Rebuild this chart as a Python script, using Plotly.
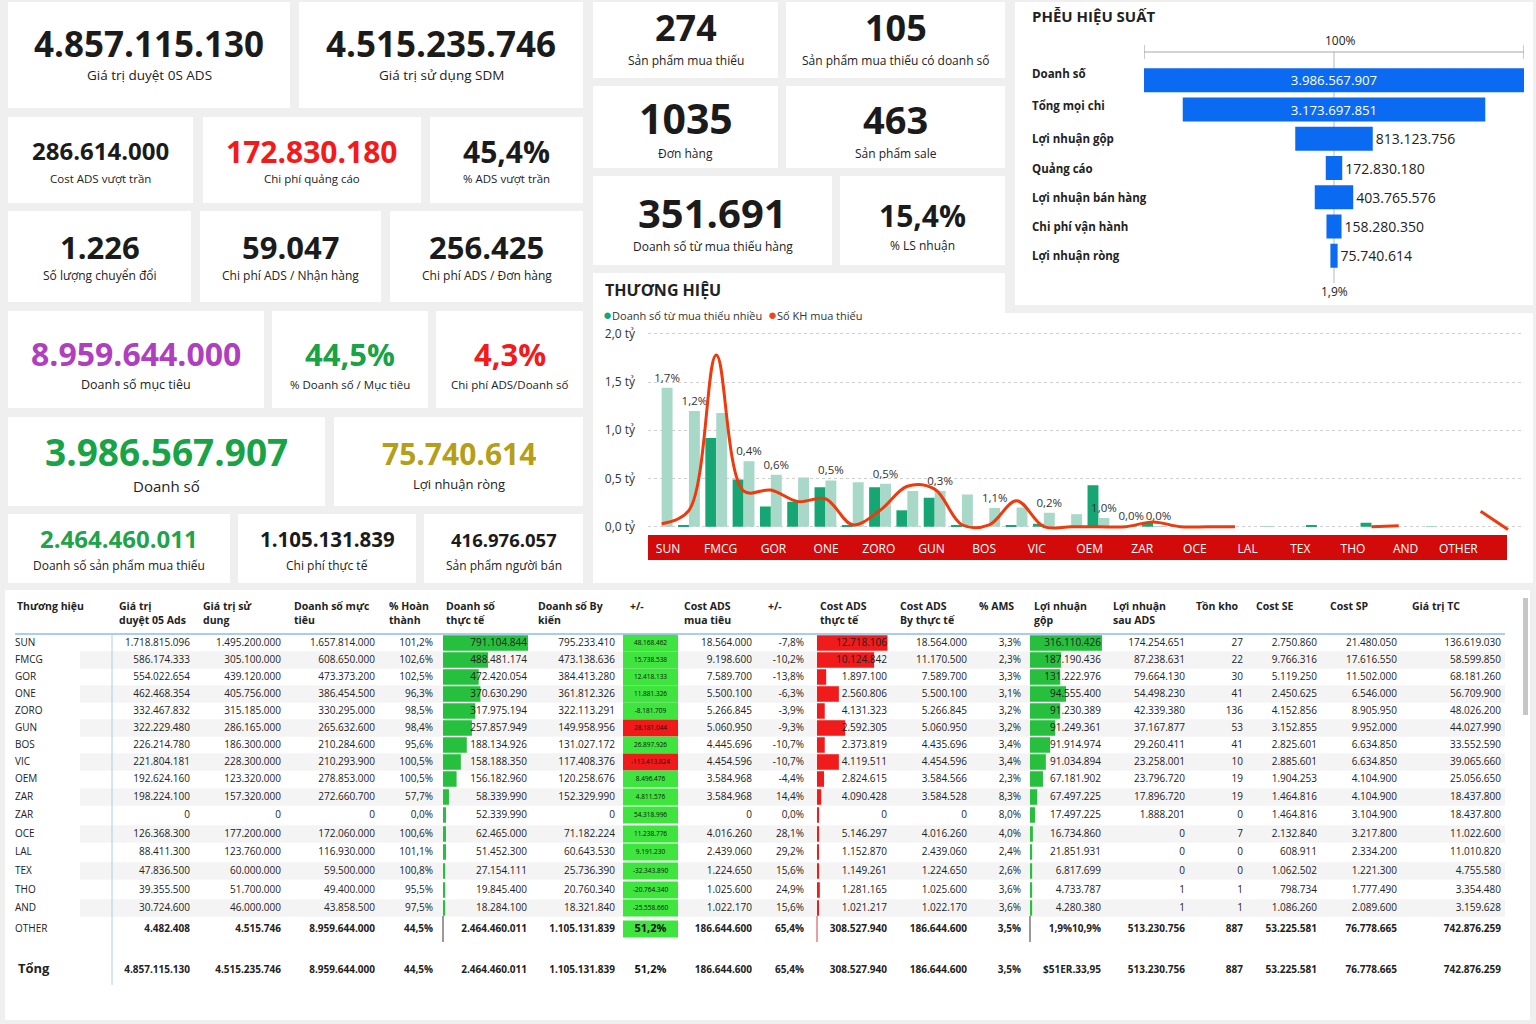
import plotly.graph_objects as go

W, H = 1536, 1024
FONT = "Open Sans"
INK = "#1b1b1b"


def fx(x):
    return x / W


def fy(y):
    return 1 - y / H


# ------------------------------------------------------------------ KPI data
kpi_values = ["4.857.115.130", "4.515.235.746", "286.614.000", "172.830.180", "45,4%",
              "1.226", "59.047", "256.425", "8.959.644.000", "44,5%", "4,3%",
              "3.986.567.907", "75.740.614", "2.464.460.011", "1.105.131.839", "416.976.057",
              "274", "105", "1035", "463", "351.691", "15,4%"]
kpi_labels = ["Giá trị duyệt 0S ADS", "Giá trị sử dụng SDM", "Cost ADS vượt trần", "Chi phí quảng cáo",
              "% ADS vượt trần", "Số lượng chuyển đổi", "Chi phí ADS / Nhận hàng", "Chi phí ADS / Đơn hàng",
              "Doanh số mục tiêu", "% Doanh số / Mục tiêu", "Chi phí ADS/Doanh số", "Doanh số",
              "Lợi nhuận ròng", "Doanh số sản phẩm mua thiếu", "Chi phí thực tế", "Sản phẩm người bán",
              "Sản phẩm mua thiếu", "Sản phẩm mua thiếu có doanh số", "Đơn hàng", "Sản phẩm sale",
              "Doanh số từ mua thiếu hàng", "% LS nhuận"]

# ------------------------------------------------------------------ brand chart data (32 slots)
brand_labels = ["SUN", "FMCG", "GOR", "ONE", "ZORO", "GUN", "BOS", "VIC", "OEM", "ZAR",
                "OCE", "LAL", "TEX", "THO", "AND", "OTHER"]
ds_mua_thieu_nhieu = [0.0, 0.01, 0.92, 0.49, 0.21, 0.26, 0.41, 0.01, 0.41, 0.17, 0.30, 0.01, 0.0, 0.01,
                      0.03, 0.0, 0.43, 0.0, 0.04, 0.0, 0.0, 0.0, 0.0, 0.0, 0.015, 0.0, 0.04, 0.0,
                      0.0, 0.0, 0.0, 0.0]
ds_tong = [1.44, 1.20, 1.18, 0.68, 0.54, 0.51, 0.48, 0.46, 0.445, 0.37, 0.37, 0.335, 0.195, 0.20,
           0.145, 0.13, 0.09, 0.005, 0.003, 0.0, 0.0, 0.0, 0.006, 0.0, 0.0, 0.0, 0.0, 0.0,
           0.004, 0.0, 0.0, 0.0]
ty_le_nhan = ["1,7%", "1,2%", "", "0,4%", "0,6%", "", "0,5%", "", "0,5%", "", "0,3%", "", "1,1%", "",
              "0,2%", "", "1,0%", "0,0%", "0,0%", "", "", "", "", "", "", "", "", "", "", "", "", ""]
so_kh_mua_thieu = [0.03, 0.17, 1.78, 0.37, 0.38, 0.26, 0.29, 0.02, 0.17, 0.42, 0.39, 0.02, 0.02, 0.27,
                   0.0, 0.0, 0.0, 0.0, 0.05, 0.0, 0.0, 0.0, None, None, None, None, 0.0, 0.01,
                   None, None, 0.16, -0.03]
y_ticks = [0, 0.5, 1.0, 1.5, 2.0]
y_tick_text = ["0,0 tỷ", "0,5 tỷ", "1,0 tỷ", "1,5 tỷ", "2,0 tỷ"]

# ------------------------------------------------------------------ funnel data
funnel_stages = ["Doanh số", "Tổng mọi chi", "Lợi nhuận gộp", "Quảng cáo", "Lợi nhuận bán hàng",
                 "Chi phí vận hành", "Lợi nhuận ròng"]
funnel_values = [3986567907, 3173697851, 813123756, 172830180, 403765576, 158280350, 75740614]

# ------------------------------------------------------------------ table data
thuong_hieu = ["SUN", "FMCG", "GOR", "ONE", "ZORO", "GUN", "BOS", "VIC", "OEM", "ZAR", "ZAR", "OCE",
               "LAL", "TEX", "THO", "AND", "OTHER"]
gia_tri_duyet = ["1.718.815.096", "586.174.333", "554.022.654", "462.468.354", "332.467.832", "322.229.480",
                 "226.214.780", "221.804.181", "192.624.160", "198.224.100", "0", "126.368.300", "88.411.300",
                 "47.836.500", "39.355.500", "30.724.600", "4.482.408", "4.857.115.130"]
gia_tri_su_dung = ["1.495.200.000", "305.100.000", "439.120.000", "405.756.000", "315.185.000", "286.165.000",
                   "186.300.000", "228.300.000", "123.320.000", "157.320.000", "0", "177.200.000", "123.760.000",
                   "60.000.000", "51.700.000", "46.000.000", "4.515.746", "4.515.235.746"]
ds_muc_tieu = ["1.657.814.000", "608.650.000", "473.373.200", "386.454.500", "330.295.000", "265.632.600",
               "210.284.600", "210.293.900", "278.853.000", "272.660.700", "0", "172.060.000", "116.930.000",
               "59.500.000", "49.400.000", "43.858.500", "8.959.644.000", "8.959.644.000"]
pct_hoan_thanh = ["101,2%", "102,6%", "102,5%", "96,3%", "98,5%", "98,4%", "95,6%", "100,5%", "100,5%",
                  "57,7%", "0,0%", "100,6%", "101,1%", "100,8%", "95,5%", "97,5%", "44,5%", "44,5%"]
ds_thuc_te = ["791.104.844", "488.481.174", "472.420.054", "370.630.290", "317.975.194", "257.857.949",
              "188.134.926", "158.188.350", "156.182.960", "58.339.990", "52.339.990", "62.465.000",
              "51.452.300", "27.154.111", "19.845.400", "18.284.100", "2.464.460.011", "2.464.460.011"]
ds_thuc_te_bar = [1.0, 0.53, 0.42, 0.44, 0.38, 0.34, 0.28, 0.21, 0.16, 0.07, 0.035, 0.035, 0.035,
                  0.025, 0.025, 0.025]
ds_du_kien = ["795.233.410", "473.138.636", "384.413.280", "361.812.326", "322.113.291", "149.958.956",
              "131.027.172", "117.408.376", "120.258.676", "152.329.990", "0", "71.182.224", "60.643.530",
              "25.736.390", "20.760.340", "18.321.840", "1.105.131.839", "1.105.131.839"]
chenh_lech_ds = ["48.168.462", "15.738.538", "12.418.133", "11.881.326", "-8.181.709", "28.181.044",
                 "26.897.926", "-113.413.824", "8.496.476", "4.811.576", "54.318.996", "11.238.776",
                 "9.191.230", "-32.343.890", "-20.764.340", "-25.558.660", "51,2%", "51,2%"]
chenh_lech_dat = [True, True, True, True, True, False, True, False, True, True, True, True, True, True,
                  True, True, True]
cost_ads_muc_tieu = ["18.564.000", "9.198.600", "7.589.700", "5.500.100", "5.266.845", "5.060.950",
                     "4.445.696", "4.454.596", "3.584.968", "3.584.968", "0", "4.016.260", "2.439.060",
                     "1.224.650", "1.025.600", "1.022.170", "186.644.600", "186.644.600"]
chenh_lech_cost = ["-7,8%", "-10,2%", "-13,8%", "-6,3%", "-3,9%", "-9,3%", "-10,7%", "-10,7%", "-4,4%",
                   "14,4%", "0,0%", "28,1%", "29,2%", "15,6%", "24,9%", "15,6%", "65,4%", "65,4%"]
cost_ads_thuc_te = ["12.718.106", "10.124.842", "1.897.100", "2.560.806", "4.131.323", "2.592.305",
                    "2.373.819", "4.119.511", "2.824.615", "4.090.428", "0", "5.146.297", "1.152.870",
                    "1.149.261", "1.281.165", "1.021.217", "308.527.940", "308.527.940"]
cost_ads_thuc_te_bar = [1.0, 0.81, 0.13, 0.31, 0.11, 0.40, 0.11, 0.31, 0.10, 0.06, 0.03, 0.03, 0.02,
                        0.03, 0.04, 0.015]
cost_ads_by = ["18.564.000", "11.170.500", "7.589.700", "5.500.100", "5.266.845", "5.060.950", "4.435.696",
               "4.454.596", "3.584.566", "3.584.528", "0", "4.016.260", "2.439.060", "1.224.650",
               "1.025.600", "1.022.170", "186.644.600", "186.644.600"]
pct_ams = ["3,3%", "2,3%", "3,3%", "3,1%", "3,2%", "3,2%", "3,4%", "3,4%", "2,3%", "8,3%", "8,0%", "4,0%",
           "2,4%", "2,6%", "3,6%", "3,6%", "3,5%", "3,5%"]
loi_nhuan_gop = ["316.110.426", "187.190.436", "131.222.976", "94.555.400", "91.230.389", "91.249.361",
                 "91.914.974", "91.034.894", "67.181.902", "67.497.225", "17.497.225", "16.734.860",
                 "21.851.931", "6.817.699", "4.733.787", "4.280.380", "1,9%10,9%", "$51ER.33,95"]
loi_nhuan_gop_bar = [1.0, 0.43, 0.42, 0.50, 0.42, 0.35, 0.28, 0.22, 0.18, 0.10, 0.07, 0.04, 0.03,
                     0.03, 0.03, 0.03]
ln_sau_ads = ["174.254.651", "87.238.631", "79.664.130", "54.498.230", "42.339.380", "37.167.877",
              "29.260.411", "23.258.001", "23.796.720", "17.896.720", "1.888.201", "0", "0", "0", "1", "1",
              "513.230.756", "513.230.756"]
ton_kho = ["27", "22", "30", "41", "136", "53", "41", "10", "19", "19", "0", "7", "0", "0", "1", "1",
           "887", "887"]
cost_se = ["2.750.860", "9.766.316", "5.119.250", "2.450.625", "4.152.856", "3.152.855", "2.825.601",
           "2.885.601", "1.904.253", "1.464.816", "1.464.816", "2.132.840", "608.911", "1.062.502",
           "798.734", "1.086.260", "53.225.581", "53.225.581"]
cost_sp = ["21.480.050", "17.616.550", "11.502.000", "6.546.000", "8.905.950", "9.952.000", "6.634.850",
           "6.634.850", "4.104.900", "4.104.900", "3.104.900", "3.217.800", "2.334.200", "1.221.300",
           "1.777.490", "2.089.600", "76.778.665", "76.778.665"]
gia_tri_tc = ["136.619.030", "58.599.850", "68.181.260", "56.709.900", "48.026.200", "44.027.990",
              "33.552.590", "39.065.660", "25.056.650", "18.437.800", "18.437.800", "11.022.600",
              "11.010.820", "4.755.580", "3.354.480", "3.159.628", "742.876.259", "742.876.259"]
table_headers = ["Thương hiệu", "Giá trị<br>duyệt 05 Ads", "Giá trị sử<br>dung", "Doanh số mực<br>tiêu",
                 "% Hoàn<br>thành", "Doanh số<br>thực tế", "Doanh số By<br>kiến", "+/-", "Cost ADS<br>mua tiêu",
                 "+/-", "Cost ADS<br>thực tế", "Cost ADS<br>By thực tế", "% AMS", "Lợi nhuận<br>gộp",
                 "Lợi nhuận<br>sau ADS", "Tồn kho", "Cost SE", "Cost SP", "Giá trị TC"]
total_label = "Tổng"

# ================================================================== figure
fig = go.Figure()
shapes = []
annotations = []


def card(x0, y0, x1, y1):
    shapes.append(dict(type="rect", xref="paper", yref="paper", x0=fx(x0), x1=fx(x1), y0=fy(y1), y1=fy(y0),
                       fillcolor="white", line=dict(width=0), layer="below"))


# ---------------- KPI cards
kpi_layout = [  # x0, y0, x1, y1, value_y, value_size, label_y, label_size
    (8, 2, 290, 108, 44, 35, 75, 13.5), (299, 2, 583, 108, 44, 35, 75, 13.5),
    (8, 117, 193, 203, 151, 24, 178, 11.5), (203, 117, 421, 203, 151, 30, 178, 11.5),
    (430, 117, 583, 203, 151, 30, 178, 11.5),
    (8, 211, 191, 302, 246, 31, 275, 12), (200, 211, 381, 302, 246, 31, 275, 12),
    (390, 211, 583, 302, 246, 31, 275, 12),
    (8, 311, 264, 408, 353, 32, 384, 12.5), (272, 311, 428, 408, 353, 31, 384, 11.5),
    (436, 311, 583, 408, 353, 31, 384, 11.5),
    (8, 417, 325, 506, 452, 37, 486, 15), (334, 417, 583, 506, 453, 30, 484, 13),
    (8, 514, 230, 583, 539, 24, 565, 12), (238, 514, 416, 583, 539, 20.5, 565, 12),
    (424, 514, 583, 583, 539, 18.5, 565, 12),
    (593, 2, 778, 78, 27, 36, 60, 12), (786, 2, 1005, 78, 27, 36, 60, 12),
    (593, 86, 778, 168, 118, 41, 153, 12), (786, 86, 1005, 168, 118, 38, 153, 12),
    (593, 176, 832, 265, 212, 40, 246, 12), (840, 176, 1005, 265, 215, 30, 245, 12),
]
kpi_colors = [INK, INK, INK, "#f41a1a", INK, INK, INK, INK, "#b03fbf", "#18a347", "#f41a1a",
              "#18a347", "#b59f18", "#1fa34c", INK, INK, INK, INK, INK, INK, INK, INK]

for (x0, y0, x1, y1, vy, vs, ly, ls), val, lab, col in zip(kpi_layout, kpi_values, kpi_labels, kpi_colors):
    card(x0, y0, x1, y1)
    cx = (x0 + x1) / 2
    annotations.append(dict(x=fx(cx), y=fy(vy), xref="paper", yref="paper", text="<b>%s</b>" % val,
                            showarrow=False, xanchor="center", yanchor="middle", height=vs * 1.08,
                            font=dict(family=FONT, size=vs, color=col)))
    annotations.append(dict(x=fx(cx), y=fy(ly), xref="paper", yref="paper", text=lab, showarrow=False,
                            xanchor="center", yanchor="middle", font=dict(family=FONT, size=ls, color="#222")))

# ---------------- chart / table cards
card(593, 273, 1005, 583)
card(593, 313, 1533, 583)
card(1015, 2, 1533, 305)
card(5, 590, 1530, 1020)

# red category band
shapes.append(dict(type="rect", xref="paper", yref="paper", x0=fx(648), x1=fx(1507), y0=fy(560), y1=fy(535),
                   fillcolor="#d20a0a", line=dict(width=0), layer="below"))

slots = list(range(len(ds_tong)))
fig.add_trace(go.Bar(x=slots, y=ds_mua_thieu_nhieu, width=0.4, offset=-0.4,
                     marker=dict(color="#15a673", line=dict(width=0)),
                     name="Doanh số từ mua thiếu nhiều", showlegend=False, xaxis="x", yaxis="y"))
fig.add_trace(go.Bar(x=slots, y=ds_tong, width=0.4, offset=0.0, marker=dict(color="#a7d8c8", line=dict(width=0)),
                     text=ty_le_nhan, textposition="outside", constraintext="none",
                     textfont=dict(family=FONT, size=11.5, color="#333"),
                     cliponaxis=False, showlegend=False, xaxis="x", yaxis="y"))
fig.add_trace(go.Scatter(x=slots, y=so_kh_mua_thieu, mode="lines", connectgaps=False,
                         line=dict(color="#ee3a0c", width=3, shape="spline", smoothing=1.0),
                         name="Số KH mua thiếu", showlegend=False, xaxis="x", yaxis="y4", cliponaxis=False))

annotations.append(dict(x=fx(603), y=fy(290), xref="paper", yref="paper", text="<b>THƯƠNG HIỆU</b>",
                        showarrow=False, xanchor="left", yanchor="middle",
                        font=dict(family=FONT, size=16, color="#222")))
annotations.append(dict(x=fx(601), y=fy(314), xref="paper", yref="paper",
                        text="<span style='color:#13a877;font-size:15px'>●</span>Doanh số từ mua thiếu nhiều  "
                             "<span style='color:#f0461a;font-size:15px'>●</span>Số KH mua thiếu",
                        showarrow=False, xanchor="left", yanchor="middle",
                        font=dict(family=FONT, size=11, color="#333")))

tick_pos = [0.233 + 1.93 * i for i in range(len(brand_labels))]
y_range = [-0.086, 2.04]

# ---------------- funnel
fmt = lambda v: f"{v:,}".replace(",", ".")
M = funnel_values[0]
fig.add_trace(go.Funnel(y=funnel_stages, x=funnel_values, text=[fmt(v) for v in funnel_values],
                        textinfo="text", textposition=["inside", "inside"] + ["outside"] * 5,
                        insidetextfont=dict(family=FONT, size=14, color="white"),
                        outsidetextfont=dict(family=FONT, size=14, color="#222"),
                        marker=dict(color="#0b6af2", line=dict(width=0)),
                        connector=dict(visible=False), cliponaxis=False, xaxis="x2", yaxis="y2",
                        showlegend=False))
annotations.append(dict(x=fx(1030), y=fy(16), xref="paper", yref="paper", text="<b>PHỄU HIỆU SUẤT</b>",
                        showarrow=False, xanchor="left", yanchor="middle",
                        font=dict(family=FONT, size=15, color="#222")))
label_shift = [7, 4, 0, 0, 0, 0, 0]
for st, ys in zip(funnel_stages, label_shift):
    annotations.append(dict(x=fx(1030), y=st, xref="paper", yref="y2", text="<b>%s</b>" % st,
                            showarrow=False, xanchor="left", yanchor="middle", yshift=ys,
                            font=dict(family=FONT, size=11.5, color="#222")))
pct_first = "%d%%" % round(100 * funnel_values[0] / M)
pct_last = ("%.1f%%" % (100 * funnel_values[-1] / M)).replace(".", ",")
annotations.append(dict(x=0, y=fy(40), xref="x2", yref="paper", text=pct_first, showarrow=False,
                        xanchor="center", yanchor="middle", xshift=6,
                        font=dict(family=FONT, size=12, color="#222")))
annotations.append(dict(x=0, y=fy(291), xref="x2", yref="paper", text=pct_last, showarrow=False,
                        xanchor="center", yanchor="middle", font=dict(family=FONT, size=12, color="#222")))
axc = "#a8a8a8"
shapes += [
    dict(type="line", xref="x2", yref="paper", x0=-M / 2, x1=M / 2, y0=fy(52), y1=fy(52),
         line=dict(color=axc, width=1.2)),
    dict(type="line", xref="x2", yref="paper", x0=-M / 2, x1=-M / 2, y0=fy(45), y1=fy(59),
         line=dict(color=axc, width=1.2)),
    dict(type="line", xref="x2", yref="paper", x0=M / 2, x1=M / 2, y0=fy(45), y1=fy(59),
         line=dict(color=axc, width=1.2)),
    dict(type="line", xref="x2", yref="paper", x0=0, x1=0, y0=fy(52), y1=fy(283),
         line=dict(color="#c4c4c4", width=1.2), layer="below"),
]

# ---------------- table
n = 16
row_y = [643, 660, 677, 694, 711, 728, 745, 762, 779, 797, 815, 834, 852, 871, 890, 908, 929]
total_y = 970
ys_all = row_y + [total_y]
num_cols = [(gia_tri_duyet, 190), (gia_tri_su_dung, 281), (ds_muc_tieu, 375), (pct_hoan_thanh, 433),
            (ds_thuc_te, 527), (ds_du_kien, 615), (cost_ads_muc_tieu, 752), (chenh_lech_cost, 804),
            (cost_ads_thuc_te, 887), (cost_ads_by, 967), (pct_ams, 1021), (loi_nhuan_gop, 1101),
            (ln_sau_ads, 1185), (ton_kho, 1243), (cost_se, 1317), (cost_sp, 1397), (gia_tri_tc, 1501)]
header_x = [15, 117, 201, 292, 387, 444, 536, 628, 682, 766, 818, 898, 977, 1032, 1111, 1194, 1254, 1328, 1410]

for i in range(n):
    if i % 2 == 1:
        shapes.append(dict(type="rect", xref="x3", yref="y3", x0=80, x1=1505, y0=row_y[i] - 8.8,
                           y1=row_y[i] + 8.8, fillcolor="#f4f4f4", line=dict(width=0), layer="below"))
shapes.append(dict(type="line", xref="x3", yref="y3", x0=15, x1=1505, y0=634, y1=634,
                   line=dict(color="#8dbde6", width=1.5)))
shapes.append(dict(type="line", xref="x3", yref="y3", x0=112, x1=112, y0=634, y1=985,
                   line=dict(color="#a9cdee", width=1)))
shapes.append(dict(type="rect", xref="x3", yref="y3", x0=1523, x1=1528, y0=598, y1=715,
                   fillcolor="#c6c6c6", line=dict(width=0)))

fill_cols = ["#3fe43f" if ok else "#f01a1a" for ok in chenh_lech_dat]
fig.add_trace(go.Bar(y=row_y, x=[55] * (n + 1), base=[623] * (n + 1), orientation="h", width=17,
                     marker=dict(color=fill_cols, line=dict(width=0)), xaxis="x3", yaxis="y3",
                     showlegend=False))
for bars, x0, span, col in [(ds_thuc_te_bar, 443, 85, "#27bf3e"), (cost_ads_thuc_te_bar, 817, 70.5, "#f01b1b"),
                            (loi_nhuan_gop_bar, 1030, 72, "#27bf3e")]:
    fig.add_trace(go.Bar(y=row_y[:n], x=[b * span for b in bars], base=[x0] * n, orientation="h", width=15.5,
                         marker=dict(color=col, line=dict(width=0)), xaxis="x3", yaxis="y3",
                         showlegend=False))
# thin summary-row bar stubs (OTHER row)
fig.add_trace(go.Bar(y=[row_y[n]] * 3, x=[1.5, 1.5, 1.5], base=[442, 816, 1029], orientation="h", width=26,
                     marker=dict(color=["#9a9a9a", "#e8a0a0", "#9a9a9a"], line=dict(width=0)),
                     xaxis="x3", yaxis="y3", showlegend=False))

cell_font = dict(family=FONT, size=10, color="#222")


def bold(lst, idxs):
    return ["<b>%s</b>" % v if i in idxs else v for i, v in enumerate(lst)]


fig.add_trace(go.Scatter(x=[15] * (n + 1), y=row_y, mode="text", text=thuong_hieu, textposition="middle right",
                         textfont=cell_font, xaxis="x3", yaxis="y3", showlegend=False, cliponaxis=False))
fig.add_trace(go.Scatter(x=[18], y=[total_y], mode="text", text=["<b>%s</b>" % total_label],
                         textposition="middle right", textfont=dict(family=FONT, size=13, color="#222"),
                         xaxis="x3", yaxis="y3", showlegend=False, cliponaxis=False))
for vals, xr in num_cols:
    fig.add_trace(go.Scatter(x=[xr] * len(vals), y=ys_all, mode="text", text=bold(vals, {n, n + 1}),
                             textposition="middle left", textfont=cell_font, xaxis="x3", yaxis="y3",
                             showlegend=False, cliponaxis=False))
fig.add_trace(go.Scatter(x=[650.5] * n, y=row_y[:n], mode="text", text=chenh_lech_ds[:n],
                         textposition="middle center", textfont=dict(family=FONT, size=6.5, color="#111"),
                         xaxis="x3", yaxis="y3", showlegend=False, cliponaxis=False))
fig.add_trace(go.Scatter(x=[650.5, 650.5], y=[row_y[n], total_y], mode="text",
                         text=["<b>%s</b>" % v for v in chenh_lech_ds[n:]], textposition="middle center",
                         textfont=dict(family=FONT, size=11, color="#111"), xaxis="x3", yaxis="y3",
                         showlegend=False, cliponaxis=False))
for hx, ht in zip(header_x, table_headers):
    annotations.append(dict(x=hx, y=597, xref="x3", yref="y3", text="<b>%s</b>" % ht, showarrow=False,
                            xanchor="left", yanchor="top", align="left",
                            font=dict(family=FONT, size=10.5, color="#222")))

# ================================================================== layout
fig.update_layout(
    width=W, height=H, margin=dict(l=0, r=0, t=0, b=0, pad=0, autoexpand=False),
    paper_bgcolor="#efefef", plot_bgcolor="rgba(0,0,0,0)",
    font=dict(family=FONT, color="#222"),
    barmode="overlay", funnelgap=0.18, hovermode=False, showlegend=False,
    shapes=shapes, annotations=annotations,
    xaxis=dict(domain=[fx(648), fx(1521.6)], range=[-0.5, 31.5], tickvals=tick_pos, ticktext=brand_labels,
               tickfont=dict(family=FONT, size=12, color="white"), showgrid=False, zeroline=False,
               showline=False, ticks="", ticklabelstandoff=5, fixedrange=True, automargin=False),
    yaxis=dict(domain=[fy(535), fy(330)], range=y_range, tickvals=y_ticks, ticktext=y_tick_text,
               tickfont=dict(family=FONT, size=12, color="#333"), showgrid=True, gridcolor="#cfcfcf",
               griddash="dot", gridwidth=1, zeroline=False, showline=False, ticks="", ticklabelstandoff=12,
               fixedrange=True, automargin=False),
    yaxis4=dict(overlaying="y", range=y_range, visible=False, fixedrange=True),
    xaxis2=dict(domain=[fx(1144), fx(1524)], range=[-M / 2, M / 2], visible=False, fixedrange=True),
    yaxis2=dict(domain=[fy(270.5), fy(65.5)], categoryorder="array", categoryarray=funnel_stages,
                autorange="reversed", showticklabels=False, showgrid=False, zeroline=False, fixedrange=True),
    xaxis3=dict(domain=[0, 1], range=[0, W], visible=False, fixedrange=True),
    yaxis3=dict(domain=[fy(1020), fy(590)], range=[1020, 590], visible=False, fixedrange=True),
)

fig.write_html("out.html", post_script="document.body.style.margin='0px';document.body.style.overflow='hidden';")
